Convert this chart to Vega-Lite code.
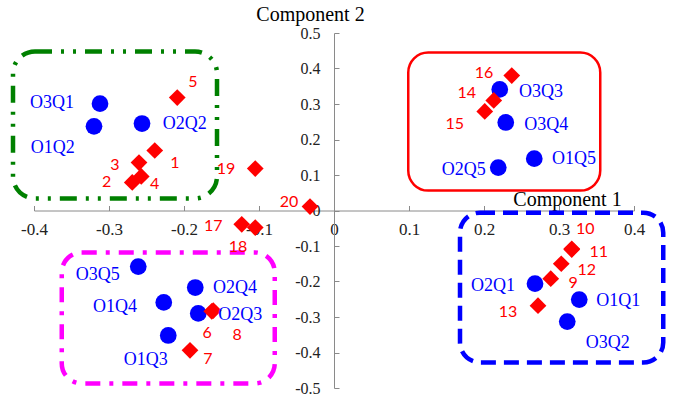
{
  "$schema": "https://vega.github.io/schema/vega-lite/v6.json",
  "autosize": "none",
  "width": 600,
  "height": 355,
  "padding": {"left": 34, "top": 33, "right": 57, "bottom": 7},
  "background": "white",
  "config": {
    "view": {"stroke": null},
    "axis": {
      "grid": false,
      "domainColor": "#8a8a8a",
      "tickColor": "#8a8a8a",
      "labelFont": "Liberation Serif",
      "labelFontSize": 16,
      "labelColor": "#222222",
      "titleFont": "Liberation Serif",
      "titleFontSize": 20,
      "titleFontWeight": "normal",
      "titleColor": "#000000"
    }
  },
  "datasets": {
    "markers": [
      {"id": "O3Q1", "kind": "Q", "c1": -0.312, "c2": 0.301},
      {"id": "O1Q2", "kind": "Q", "c1": -0.320, "c2": 0.237},
      {"id": "O2Q2", "kind": "Q", "c1": -0.256, "c2": 0.245},
      {"id": "O3Q3", "kind": "Q", "c1": 0.221, "c2": 0.341},
      {"id": "O3Q4", "kind": "Q", "c1": 0.229, "c2": 0.248},
      {"id": "O2Q5", "kind": "Q", "c1": 0.219, "c2": 0.121},
      {"id": "O1Q5", "kind": "Q", "c1": 0.267, "c2": 0.146},
      {"id": "O3Q5", "kind": "Q", "c1": -0.261, "c2": -0.158},
      {"id": "O2Q4", "kind": "Q", "c1": -0.185, "c2": -0.217},
      {"id": "O1Q4", "kind": "Q", "c1": -0.227, "c2": -0.259},
      {"id": "O2Q3", "kind": "Q", "c1": -0.181, "c2": -0.290},
      {"id": "O1Q3", "kind": "Q", "c1": -0.221, "c2": -0.352},
      {"id": "O2Q1", "kind": "Q", "c1": 0.268, "c2": -0.206},
      {"id": "O1Q1", "kind": "Q", "c1": 0.327, "c2": -0.251},
      {"id": "O3Q2", "kind": "Q", "c1": 0.311, "c2": -0.313},
      {"id": "1", "kind": "item", "c1": -0.239, "c2": 0.169},
      {"id": "2", "kind": "item", "c1": -0.269, "c2": 0.079},
      {"id": "3", "kind": "item", "c1": -0.260, "c2": 0.135},
      {"id": "4", "kind": "item", "c1": -0.257, "c2": 0.096},
      {"id": "5", "kind": "item", "c1": -0.209, "c2": 0.318},
      {"id": "6", "kind": "item", "c1": -0.163, "c2": -0.284},
      {"id": "7", "kind": "item", "c1": -0.192, "c2": -0.394},
      {"id": "8", "kind": "item", "c1": -0.161, "c2": -0.282},
      {"id": "9", "kind": "item", "c1": 0.289, "c2": -0.192},
      {"id": "10", "kind": "item", "c1": 0.317, "c2": -0.108},
      {"id": "11", "kind": "item", "c1": 0.317, "c2": -0.110},
      {"id": "12", "kind": "item", "c1": 0.303, "c2": -0.150},
      {"id": "13", "kind": "item", "c1": 0.272, "c2": -0.268},
      {"id": "14", "kind": "item", "c1": 0.213, "c2": 0.310},
      {"id": "15", "kind": "item", "c1": 0.201, "c2": 0.279},
      {"id": "16", "kind": "item", "c1": 0.237, "c2": 0.380},
      {"id": "17", "kind": "item", "c1": -0.123, "c2": -0.039},
      {"id": "18", "kind": "item", "c1": -0.105, "c2": -0.048},
      {"id": "19", "kind": "item", "c1": -0.105, "c2": 0.118},
      {"id": "20", "kind": "item", "c1": -0.032, "c2": 0.011}
    ],
    "labels": [
      {"text": "O3Q1", "kind": "Q", "c1": -0.376, "c2": 0.304},
      {"text": "O1Q2", "kind": "Q", "c1": -0.375, "c2": 0.175},
      {"text": "O2Q2", "kind": "Q", "c1": -0.199, "c2": 0.245},
      {"text": "O3Q3", "kind": "Q", "c1": 0.276, "c2": 0.335},
      {"text": "O3Q4", "kind": "Q", "c1": 0.283, "c2": 0.242},
      {"text": "O2Q5", "kind": "Q", "c1": 0.173, "c2": 0.115},
      {"text": "O1Q5", "kind": "Q", "c1": 0.320, "c2": 0.146},
      {"text": "O3Q5", "kind": "Q", "c1": -0.315, "c2": -0.183},
      {"text": "O2Q4", "kind": "Q", "c1": -0.132, "c2": -0.217},
      {"text": "O1Q4", "kind": "Q", "c1": -0.292, "c2": -0.273},
      {"text": "O2Q3", "kind": "Q", "c1": -0.125, "c2": -0.293},
      {"text": "O1Q3", "kind": "Q", "c1": -0.251, "c2": -0.420},
      {"text": "O2Q1", "kind": "Q", "c1": 0.212, "c2": -0.214},
      {"text": "O1Q1", "kind": "Q", "c1": 0.379, "c2": -0.254},
      {"text": "O3Q2", "kind": "Q", "c1": 0.365, "c2": -0.372},
      {"text": "1", "kind": "item", "c1": -0.212, "c2": 0.135},
      {"text": "2", "kind": "item", "c1": -0.303, "c2": 0.079},
      {"text": "3", "kind": "item", "c1": -0.292, "c2": 0.127},
      {"text": "4", "kind": "item", "c1": -0.239, "c2": 0.076},
      {"text": "5", "kind": "item", "c1": -0.188, "c2": 0.363},
      {"text": "6", "kind": "item", "c1": -0.169, "c2": -0.346},
      {"text": "7", "kind": "item", "c1": -0.168, "c2": -0.417},
      {"text": "8", "kind": "item", "c1": -0.129, "c2": -0.352},
      {"text": "9", "kind": "item", "c1": 0.319, "c2": -0.203},
      {"text": "10", "kind": "item", "c1": 0.335, "c2": -0.051},
      {"text": "11", "kind": "item", "c1": 0.353, "c2": -0.118},
      {"text": "12", "kind": "item", "c1": 0.337, "c2": -0.169},
      {"text": "13", "kind": "item", "c1": 0.232, "c2": -0.285},
      {"text": "14", "kind": "item", "c1": 0.177, "c2": 0.330},
      {"text": "15", "kind": "item", "c1": 0.161, "c2": 0.245},
      {"text": "16", "kind": "item", "c1": 0.200, "c2": 0.386},
      {"text": "17", "kind": "item", "c1": -0.161, "c2": -0.045},
      {"text": "18", "kind": "item", "c1": -0.128, "c2": -0.104},
      {"text": "19", "kind": "item", "c1": -0.144, "c2": 0.118},
      {"text": "20", "kind": "item", "c1": -0.060, "c2": 0.025}
    ],
    "boxes": [
      {"group": "green", "c1": -0.428, "c1b": -0.156, "c2": 0.448, "c2b": 0.034},
      {"group": "red", "c1": 0.099, "c1b": 0.355, "c2": 0.445, "c2b": 0.056},
      {"group": "blue", "c1": 0.168, "c1b": 0.439, "c2": -0.006, "c2b": -0.428},
      {"group": "magenta", "c1": -0.363, "c1b": -0.079, "c2": -0.118, "c2b": -0.487}
    ]
  },
  "encoding": {
    "x": {
      "field": "c1", "type": "quantitative",
      "scale": {"domain": [-0.4, 0.4], "nice": false, "zero": false},
      "axis": {
        "title": "Component 1",
        "orient": "bottom",
        "offset": -177.5,
        "values": [-0.4, -0.3, -0.2, -0.1, 0, 0.1, 0.2, 0.3, 0.4],
        "labelExpr": "datum.value == 0 ? '0' : (datum.value < 0 ? '-' : '') + format(abs(datum.value), '.1f')",
        "labelFont": "Liberation Serif",
        "labelFontSize": 17,
        "tickSize": -5,
        "labelPadding": 16,
        "labelFlush": false,
        "labelOverlap": false,
        "titleX": 533,
        "titleY": -5,
        "titleAlign": "center",
        "titleBaseline": "alphabetic"
      }
    },
    "y": {
      "field": "c2", "type": "quantitative",
      "scale": {"domain": [-0.5, 0.5], "nice": false, "zero": false},
      "axis": {
        "title": "Component 2",
        "orient": "left",
        "offset": -300,
        "values": [-0.5, -0.4, -0.3, -0.2, -0.1, 0, 0.1, 0.2, 0.3, 0.4, 0.5],
        "labelExpr": "datum.value == 0 ? '0' : (datum.value < 0 ? '-' : '') + format(abs(datum.value), '.1f')",
        "labelFont": "Liberation Serif",
        "labelFontSize": 16,
        "tickSize": -5,
        "labelPadding": 19,
        "labelFlush": false,
        "labelOverlap": false,
        "titleAngle": 0,
        "titleX": -24,
        "titleY": -13,
        "titleAlign": "center",
        "titleBaseline": "alphabetic"
      }
    }
  },
  "layer": [
    {
      "data": {"name": "boxes"},
      "transform": [{"filter": "datum.group == 'green'"}],
      "mark": {"type": "rect", "filled": false, "stroke": "#008000", "strokeWidth": 4.5, "cornerRadius": 22, "strokeDash": [17, 9, 3, 9, 3, 9]},
      "encoding": {"x2": {"field": "c1b"}, "y2": {"field": "c2b"}}
    },
    {
      "data": {"name": "boxes"},
      "transform": [{"filter": "datum.group == 'red'"}],
      "mark": {"type": "rect", "filled": false, "stroke": "#ff0000", "strokeWidth": 2.5, "cornerRadius": 20},
      "encoding": {"x2": {"field": "c1b"}, "y2": {"field": "c2b"}}
    },
    {
      "data": {"name": "boxes"},
      "transform": [{"filter": "datum.group == 'blue'"}],
      "mark": {"type": "rect", "filled": false, "stroke": "#0000ff", "strokeWidth": 4.5, "cornerRadius": 20, "strokeDash": [15, 8]},
      "encoding": {"x2": {"field": "c1b"}, "y2": {"field": "c2b"}}
    },
    {
      "data": {"name": "boxes"},
      "transform": [{"filter": "datum.group == 'magenta'"}],
      "mark": {"type": "rect", "filled": false, "stroke": "#ff00ff", "strokeWidth": 4.5, "cornerRadius": 20, "strokeDash": [15, 9, 4, 9]},
      "encoding": {"x2": {"field": "c1b"}, "y2": {"field": "c2b"}}
    },
    {
      "data": {"name": "markers"},
      "transform": [{"filter": "datum.kind == 'Q'"}],
      "mark": {"type": "point", "shape": "circle", "filled": true, "color": "#0000ff", "opacity": 1, "size": 280}
    },
    {
      "data": {"name": "markers"},
      "transform": [{"filter": "datum.kind == 'item'"}],
      "mark": {"type": "point", "shape": "diamond", "filled": true, "color": "#ff0000", "opacity": 1, "size": 280}
    },
    {
      "data": {"name": "labels"},
      "transform": [{"filter": "datum.kind == 'Q'"}],
      "mark": {"type": "text", "font": "Liberation Serif", "fontSize": 18, "color": "#0000ff", "align": "center", "baseline": "middle"},
      "encoding": {"text": {"field": "text"}}
    },
    {
      "data": {"name": "labels"},
      "transform": [{"filter": "datum.kind == 'item'"}],
      "mark": {"type": "text", "font": "Lato", "fontSize": 16, "color": "#ff0000", "align": "center", "baseline": "middle"},
      "encoding": {"text": {"field": "text"}}
    }
  ]
}
